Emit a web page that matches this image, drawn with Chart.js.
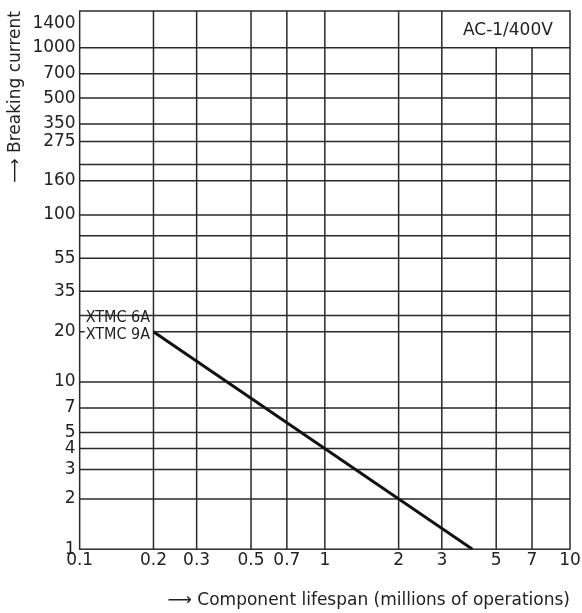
<!DOCTYPE html>
<html>
<head>
<meta charset="utf-8">
<script src="https://cdn.jsdelivr.net/npm/chart.js@4"></script>
<style>
  html, body { margin: 0; padding: 0; background: #fff; }
  #wrap { width: 582px; height: 613px; }
</style>
</head>
<body>
<div id="wrap"><canvas id="lifespanChart"></canvas></div>
<script>
const xTicks = [0.1, 0.2, 0.3, 0.5, 0.7, 1, 2, 3, 5, 7, 10];
const yTicks = [1, 2, 3, 4, 5, 7, 10, 20, 35, 55, 100, 160, 275, 350, 500, 700, 1000, 1400];
const yGridExtra = [25, 75, 200]; // unlabelled grid rows
const lifespan = [0.2, 4];
const current = [20, 1];
const seriesNames = ['XTMC 6A', 'XTMC 9A'];
const panelLabel = 'AC-1/400V';

const ink = '#2a2a2a';
const font = { family: '"DejaVu Sans", sans-serif', size: 17 };

// grid drawn by hand: the header cell over 3..10 is merged and the 20 row stops at 0.2
const paperGrid = {
  id: 'paperGrid',
  beforeDatasetsDraw(chart) {
    const { ctx, chartArea: a, scales: { x, y } } = chart;
    const y1000 = y.getPixelForValue(1000);
    const x02 = x.getPixelForValue(0.2);
    const y20 = y.getPixelForValue(20);

    ctx.save();
    ctx.strokeStyle = ink;
    ctx.lineWidth = 1.5;
    ctx.beginPath();
    xTicks.slice(1, -1).forEach(v => {
      const px = x.getPixelForValue(v);
      ctx.moveTo(px, v > 3 ? y1000 : a.top);
      ctx.lineTo(px, a.bottom);
    });
    yTicks.concat(yGridExtra).forEach(v => {
      if (v <= 1 || v >= 1400) return;
      const py = y.getPixelForValue(v);
      if (v === 20) {
        ctx.moveTo(a.left, py);
        ctx.lineTo(a.left + 5, py);
        ctx.moveTo(x02, py);
      } else {
        ctx.moveTo(a.left, py);
      }
      ctx.lineTo(a.right, py);
    });
    ctx.stroke();
    ctx.strokeRect(a.left, a.top, a.right - a.left, a.bottom - a.top);

    ctx.fillStyle = '#222';
    ctx.font = font.size + 'px ' + font.family;
    ctx.textBaseline = 'middle';
    ctx.textAlign = 'center';
    ctx.fillText(panelLabel, (x.getPixelForValue(3) + a.right) / 2 + 2, (a.top + y1000) / 2 + 1);
    ctx.textAlign = 'left';
    ctx.font = '16px "DejaVu Sans Condensed", "DejaVu Sans", sans-serif';
    ctx.fillText(seriesNames[0], a.left + 6, y20 - 14);
    ctx.fillText(seriesNames[1], a.left + 6, y20 + 3);
    ctx.restore();
  }
};

const ctx = document.getElementById('lifespanChart').getContext('2d');
new Chart(ctx, {
  type: 'line',
  data: {
    datasets: [{
      label: seriesNames.join(' / '),
      data: lifespan.map((v, i) => ({ x: v, y: current[i] })),
      borderColor: '#111',
      borderWidth: 3,
      pointRadius: 0,
      fill: false
    }]
  },
  options: {
    responsive: true,
    maintainAspectRatio: false,
    animation: false,
    layout: { padding: { left: 0, top: 11, right: 12, bottom: 0 } },
    plugins: {
      legend: { display: false },
      tooltip: { enabled: false }
    },
    scales: {
      x: {
        type: 'logarithmic',
        min: 0.1,
        max: 10,
        grid: { display: false, drawTicks: false },
        border: { display: false },
        afterBuildTicks: axis => { axis.ticks = xTicks.map(v => ({ value: v })); },
        ticks: {
          autoSkip: false,
          maxRotation: 0,
          padding: 1,
          color: '#222',
          font: font,
          callback: v => String(v)
        },
        title: {
          display: true,
          align: 'end',
          text: '⟶ Component lifespan (millions of operations)',
          color: '#222',
          font: font,
          padding: { top: 19, bottom: 2 }
        }
      },
      y: {
        type: 'logarithmic',
        min: 1,
        max: 1660,
        grid: { display: false, drawTicks: false },
        border: { display: false },
        afterBuildTicks: axis => { axis.ticks = yTicks.map(v => ({ value: v })); },
        ticks: {
          autoSkip: false,
          padding: 4,
          color: '#222',
          font: { family: font.family, size: font.size, lineHeight: 0.8 },
          callback: v => String(v)
        },
        title: {
          display: true,
          align: 'end',
          text: '⟶ Breaking current',
          color: '#222',
          font: font,
          padding: { top: 5, bottom: 3 }
        }
      }
    }
  },
  plugins: [paperGrid]
});
</script>
</body>
</html>
